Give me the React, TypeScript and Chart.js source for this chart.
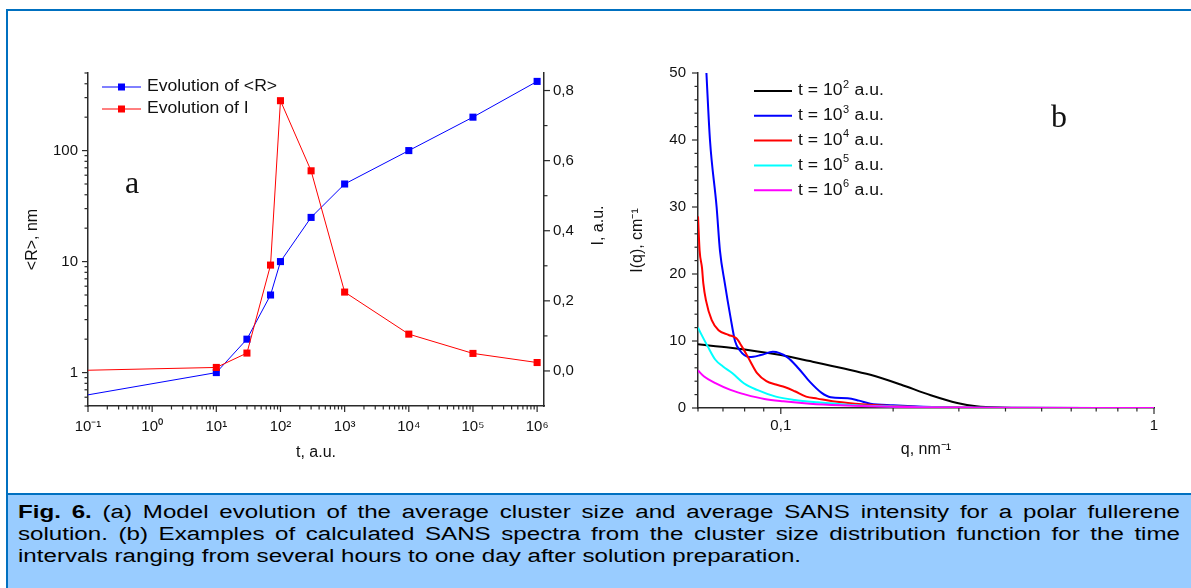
import React, { useEffect, useRef } from "react";
import { Chart, registerables } from "chart.js";

Chart.register(...registerables);

// ---------------- Panel (a) data ----------------
const timeValues = [0.1, 10, 30, 70, 100, 300, 1000, 10000, 100000, 1000000];
const radiusValues = [0.63, 1, 2, 5, 10, 25, 50, 100, 200, 420];
const intensityValues = [0.002, 0.01, 0.051, 0.302, 0.771, 0.571, 0.225, 0.105, 0.05, 0.024];
const seriesNamesA = ["Evolution of <R>", "Evolution of I"];

const timeMajorTicks = [0.1, 1, 10, 100, 1000, 10000, 100000, 1000000];
const timeTickLabels = ["10⁻¹", "10⁰", "10¹", "10²", "10³", "10⁴", "10⁵", "10⁶"];
const radiusMajorTicks = [1, 10, 100];
const radiusTickLabels = ["1", "10", "100"];
const intensityMajorTicks = [0, 0.2, 0.4, 0.6, 0.8];
const intensityTickLabels = ["0,0", "0,2", "0,4", "0,6", "0,8"];
const intensityMinorTicks = [0.1, 0.3, 0.5, 0.7];

// ---------------- Panel (b) data ----------------
const qT2 = [0.06, 0.0733, 0.1, 0.1197, 0.1476, 0.1738, 0.2095, 0.2523, 0.297, 0.334, 0.398, 0.5, 1];
const iT2 = [9.5, 9.0, 7.9, 7.0, 5.9, 4.95, 3.5, 1.9, 0.75, 0.25, 0.05, 0, 0];

const qT3 = [0.06, 0.0632, 0.0646, 0.0673, 0.0687, 0.0708, 0.0733, 0.0754, 0.0774, 0.0824, 0.0884, 0.0952, 0.104, 0.1116, 0.1197, 0.1284, 0.1361, 0.1511, 0.1621, 0.1738, 0.2, 0.241, 0.334, 1];
const iT3 = [75, 50, 40, 30, 23.5, 18.6, 13.6, 10, 8.7, 7.6, 7.9, 8.4, 7.6, 5.9, 3.9, 2.3, 1.6, 1.45, 1.1, 0.65, 0.4, 0.2, 0.05, 0];

const qT4 = [0.06, 0.0606, 0.0615, 0.062, 0.063, 0.0653, 0.0681, 0.0725, 0.076, 0.0786, 0.0824, 0.0864, 0.0915, 0.097, 0.1028, 0.109, 0.1169, 0.1254, 0.1376, 0.1583, 0.1909, 0.2353, 0.334, 1];
const iT4 = [28.6, 23.5, 20.9, 18.6, 16.1, 13.1, 11.6, 10.9, 10.4, 9.2, 7.2, 5.2, 4.0, 3.5, 3.1, 2.5, 1.7, 1.4, 1.0, 0.65, 0.35, 0.15, 0.02, 0];

const qT5 = [0.06, 0.0611, 0.0637, 0.0668, 0.07, 0.0742, 0.0796, 0.0864, 0.097, 0.109, 0.1254, 0.1511, 0.1909, 0.2524, 0.334, 1];
const iT5 = [12.0, 11.1, 9.2, 7.2, 6.2, 5.2, 3.7, 2.7, 1.7, 1.2, 0.85, 0.5, 0.25, 0.1, 0.02, 0];

const qT6 = [0.06, 0.0623, 0.0668, 0.0733, 0.0805, 0.0904, 0.1016, 0.1197, 0.1442, 0.1738, 0.2353, 0.334, 1];
const iT6 = [5.6, 4.7, 3.7, 2.7, 2.0, 1.35, 1.0, 0.65, 0.4, 0.25, 0.1, 0.02, 0];

const seriesExponentsB = ["2", "3", "4", "5", "6"];
const seriesNamesB = ["t = 10² a.u.", "t = 10³ a.u.", "t = 10⁴ a.u.", "t = 10⁵ a.u.", "t = 10⁶ a.u."];
const seriesColorsB = ["#000000", "#0000FF", "#FF0000", "#00FFFF", "#FF00FF"];

const qMajorTicks = [0.1, 1];
const qTickLabels = ["0,1", "1"];
const iqMajorTicks = [0, 10, 20, 30, 40, 50];
const iqTickLabels = ["0", "10", "20", "30", "40", "50"];

const captionLines = [
  "(a) Model evolution of the average cluster size and average SANS intensity for a polar fullerene",
  "solution. (b) Examples of calculated SANS spectra from the cluster size distribution function for the time",
  "intervals ranging from several hours to one day after solution preparation.",
];

// ---------------- helpers ----------------
const FONT = "'Liberation Sans', Arial, Helvetica, sans-serif";
const AXIS = "#2a2a2a";
const TEXT = "#111111";

function logMinorTicks(min: number, max: number): number[] {
  const out: number[] = [];
  for (let e = Math.floor(Math.log10(min)); e <= Math.ceil(Math.log10(max)); e++) {
    const d = Math.pow(10, e);
    for (let m = 2; m <= 9; m++) {
      const v = parseFloat((m * d).toPrecision(6));
      if (v >= min * 0.9999 && v <= max * 1.0001) out.push(v);
    }
  }
  return out;
}

function linearMinorTicks(min: number, max: number, step: number, majorStep: number): number[] {
  const out: number[] = [];
  for (let v = Math.ceil(min / step) * step; v <= max + 1e-9; v += step) {
    const r = Math.abs(v / majorStep - Math.round(v / majorStep));
    if (r > 1e-6) out.push(parseFloat(v.toFixed(6)));
  }
  return out;
}

function fixedAxis(majors: number[], labels: string[], minors: number[], padding: number, size = 15) {
  return {
    grid: { display: false, drawTicks: false },
    border: { display: true, color: AXIS, width: 1.5 },
    afterBuildTicks: (scale: any) => {
      const all = [...majors, ...minors]
        .filter((v) => v >= scale.min - 1e-9 && v <= scale.max * 1.0001 + 1e-9)
        .sort((a, b) => a - b);
      scale.ticks = all.map((v) => ({ value: v }));
    },
    ticks: {
      autoSkip: false,
      maxRotation: 0,
      minRotation: 0,
      padding,
      color: TEXT,
      font: { family: FONT, size },
      callback: (value: number) => {
        const i = majors.findIndex((m) => Math.abs(m - value) <= Math.abs(m) * 1e-6 + 1e-9);
        return i >= 0 ? labels[i] : "";
      },
    },
  };
}

const tickMarksPlugin = {
  id: "tickMarks",
  afterDraw(chart: any) {
    const ctx = chart.ctx;
    ctx.save();
    ctx.strokeStyle = AXIS;
    ctx.lineWidth = 1.2;
    Object.values(chart.scales).forEach((scale: any) => {
      scale.ticks.forEach((t: any) => {
        const major = t.label !== "" && t.label != null;
        const len = major ? 6 : 3.5;
        const p = scale.getPixelForValue(t.value);
        ctx.beginPath();
        if (scale.position === "bottom") {
          ctx.moveTo(p, scale.top);
          ctx.lineTo(p, scale.top + len);
        } else if (scale.position === "left") {
          ctx.moveTo(scale.right, p);
          ctx.lineTo(scale.right - len, p);
        } else {
          ctx.moveTo(scale.left, p);
          ctx.lineTo(scale.left + len, p);
        }
        ctx.stroke();
      });
    });
    ctx.restore();
  },
};

function drawStretchedText(ctx: any, text: string, x: number, y: number, size: number, sx: number) {
  ctx.save();
  ctx.translate(x, y);
  ctx.scale(sx, 1);
  ctx.font = `${size}px ${FONT}`;
  ctx.fillStyle = TEXT;
  ctx.textBaseline = "middle";
  ctx.textAlign = "left";
  ctx.fillText(text, 0, 0);
  const w = ctx.measureText(text).width * sx;
  ctx.restore();
  return w;
}

const legendAPlugin = {
  id: "legendA",
  afterDraw(chart: any) {
    const { ctx, chartArea } = chart;
    chart.data.datasets.forEach((ds: any, i: number) => {
      const y = chartArea.top + 14 + i * 22;
      const x0 = chartArea.left + 14;
      ctx.save();
      ctx.strokeStyle = ds.borderColor;
      ctx.lineWidth = 1;
      ctx.beginPath();
      ctx.moveTo(x0, y);
      ctx.lineTo(x0 + 39, y);
      ctx.stroke();
      ctx.fillStyle = ds.pointBackgroundColor;
      ctx.fillRect(x0 + 19.5 - 3.5, y - 3.5, 7, 7);
      ctx.restore();
      drawStretchedText(ctx, ds.label, x0 + 45, y, 16, 1.1);
    });
    // right axis title, reading bottom-to-top
    const y1 = chart.scales.y1;
    ctx.save();
    ctx.translate(y1.left + 55, (chartArea.top + chartArea.bottom) / 2 - 14);
    ctx.rotate(-Math.PI / 2);
    ctx.font = `16px ${FONT}`;
    ctx.fillStyle = TEXT;
    ctx.textAlign = "center";
    ctx.textBaseline = "middle";
    ctx.fillText("I, a.u.", 0, 0);
    ctx.restore();
  },
};

const legendBPlugin = {
  id: "legendB",
  afterDraw(chart: any) {
    const { ctx, chartArea } = chart;
    chart.data.datasets.forEach((ds: any, i: number) => {
      const y = chartArea.top + 18 + i * 24.8;
      const x0 = chartArea.left + 56;
      ctx.save();
      ctx.strokeStyle = ds.borderColor;
      ctx.lineWidth = 2;
      ctx.beginPath();
      ctx.moveTo(x0, y);
      ctx.lineTo(x0 + 38, y);
      ctx.stroke();
      ctx.restore();
      let x = x0 + 44;
      x += drawStretchedText(ctx, "t = 10", x, y, 16, 1.1);
      x += drawStretchedText(ctx, seriesExponentsB[i], x + 0.5, y - 6, 10, 1.1) + 1;
      drawStretchedText(ctx, " a.u.", x, y, 16, 1.1);
    });
  },
};

const CAPTION_SCALE = 1.34;

export default function App() {
  const leftRef = useRef<HTMLCanvasElement>(null);
  const rightRef = useRef<HTMLCanvasElement>(null);

  useEffect(() => {
    const xA = fixedAxis(timeMajorTicks, timeTickLabels, logMinorTicks(0.1, 1000000), 12);
    const yA = fixedAxis(radiusMajorTicks, radiusTickLabels, logMinorTicks(0.5, 500), 10);
    const y1A = fixedAxis(intensityMajorTicks, intensityTickLabels, intensityMinorTicks, 9);

    const chartA = new Chart(leftRef.current as HTMLCanvasElement, {
      type: "line",
      data: {
        datasets: [
          {
            label: seriesNamesA[0],
            data: timeValues.map((t, i) => ({ x: t, y: radiusValues[i] })),
            yAxisID: "y",
            order: 1,
            borderColor: "#0000FF",
            backgroundColor: "#0000FF",
            borderWidth: 1,
            pointStyle: "rect",
            pointRadius: (c: any) => (c.dataIndex === 0 ? 0 : 5),
            pointBackgroundColor: "#0000FF",
            pointBorderColor: "#0000FF",
            pointBorderWidth: 0,
            tension: 0,
          },
          {
            label: seriesNamesA[1],
            data: timeValues.map((t, i) => ({ x: t, y: intensityValues[i] })),
            yAxisID: "y1",
            order: 0,
            borderColor: "#FF0000",
            backgroundColor: "#FF0000",
            borderWidth: 1,
            pointStyle: "rect",
            pointRadius: (c: any) => (c.dataIndex === 0 ? 0 : 5),
            pointBackgroundColor: "#FF0000",
            pointBorderColor: "#FF0000",
            pointBorderWidth: 0,
            tension: 0,
          },
        ],
      } as any,
      options: {
        responsive: false,
        animation: false,
        events: [],
        layout: { padding: { top: 53, left: 0, right: 0, bottom: 0 } },
        plugins: { legend: { display: false }, tooltip: { enabled: false } },
        scales: {
          x: {
            type: "logarithmic",
            position: "bottom",
            min: 0.1,
            max: 1280000,
            bounds: "data",
            ...xA,
            afterFit: (s: any) => {
              s.height = 84;
            },
            title: {
              display: true,
              text: "t, a.u.",
              color: TEXT,
              font: { family: FONT, size: 16 },
              padding: { top: 0, bottom: 27.4 },
            },
          },
          y: {
            type: "logarithmic",
            position: "left",
            min: 0.5,
            max: 500,
            bounds: "data",
            ...yA,
            afterFit: (s: any) => {
              s.width = 78;
            },
            title: {
              display: true,
              text: "<R>, nm",
              color: TEXT,
              font: { family: FONT, size: 16 },
              padding: { top: 13.4, bottom: 0 },
            },
          },
          y1: {
            type: "linear",
            position: "right",
            min: -0.1,
            max: 0.85,
            bounds: "data",
            ...y1A,
            afterFit: (s: any) => {
              s.width = 71;
            },
          },
        },
      } as any,
      plugins: [tickMarksPlugin, legendAPlugin],
    });

    const xB = fixedAxis(qMajorTicks, qTickLabels, logMinorTicks(0.06, 1), 9);
    const yB = fixedAxis(iqMajorTicks, iqTickLabels, linearMinorTicks(0, 50, 2, 10), 12);
    const qs = [qT2, qT3, qT4, qT5, qT6];
    const is = [iT2, iT3, iT4, iT5, iT6];

    const chartB = new Chart(rightRef.current as HTMLCanvasElement, {
      type: "line",
      data: {
        datasets: seriesNamesB.map((name, k) => ({
          label: name,
          data: qs[k].map((q, i) => ({ x: q, y: is[k][i] })),
          borderColor: seriesColorsB[k],
          backgroundColor: seriesColorsB[k],
          borderWidth: 2,
          pointRadius: 0,
          cubicInterpolationMode: "monotone",
          order: 5 - k,
        })),
      } as any,
      options: {
        responsive: false,
        animation: false,
        events: [],
        layout: { padding: { top: 53, left: 0, right: 37, bottom: 0 } },
        plugins: { legend: { display: false }, tooltip: { enabled: false } },
        scales: {
          x: {
            type: "logarithmic",
            position: "bottom",
            min: 0.06,
            max: 1,
            bounds: "data",
            ...xB,
            afterFit: (s: any) => {
              s.height = 82;
            },
            title: {
              display: true,
              text: "q, nm⁻¹",
              color: TEXT,
              font: { family: FONT, size: 16 },
              padding: { top: 0, bottom: 30.4 },
            },
          },
          y: {
            type: "linear",
            position: "left",
            min: 0,
            max: 50,
            bounds: "data",
            ...yB,
            afterFit: (s: any) => {
              s.width = 78;
            },
            title: {
              display: true,
              text: "I(q), cm⁻¹",
              color: TEXT,
              font: { family: FONT, size: 16 },
              padding: { top: 8.4, bottom: 0 },
            },
          },
        },
      } as any,
      plugins: [tickMarksPlugin, legendBPlugin],
    });

    return () => {
      chartA.destroy();
      chartB.destroy();
    };
  }, []);

  const lineStyle = (justify: boolean): React.CSSProperties => ({
    width: 1162 / CAPTION_SCALE,
    height: 22,
    transform: `scaleX(${CAPTION_SCALE})`,
    transformOrigin: "0 0",
    textAlign: justify ? "justify" : "left",
    textAlignLast: justify ? "justify" : "left",
    whiteSpace: "normal",
    overflow: "hidden",
  } as any);

  return (
    <div
      style={{
        position: "absolute",
        left: 0,
        top: 0,
        width: 1191,
        height: 588,
        overflow: "hidden",
        background: "#ffffff",
        fontFamily: FONT,
      }}
    >
      <div
        style={{
          position: "absolute",
          left: 6,
          top: 9,
          width: 1300,
          height: 700,
          borderLeft: "2px solid #0070C0",
          borderTop: "2px solid #0070C0",
          boxSizing: "border-box",
        }}
      />
      <div
        style={{
          position: "absolute",
          left: 8,
          top: 493,
          width: 1200,
          height: 100,
          background: "#99CCFF",
          borderTop: "2px solid #0070C0",
          boxSizing: "border-box",
        }}
      />
      <canvas ref={leftRef} width={605} height={470} style={{ position: "absolute", left: 10, top: 20 }} />
      <canvas ref={rightRef} width={571} height={470} style={{ position: "absolute", left: 620, top: 20 }} />
      <span
        style={{
          position: "absolute",
          left: 125,
          top: 166,
          fontFamily: "'Liberation Serif', 'Times New Roman', serif",
          fontSize: 32,
          lineHeight: "32px",
          color: TEXT,
        }}
      >
        a
      </span>
      <span
        style={{
          position: "absolute",
          left: 1051,
          top: 100,
          fontFamily: "'Liberation Serif', 'Times New Roman', serif",
          fontSize: 32,
          lineHeight: "32px",
          color: TEXT,
        }}
      >
        b
      </span>
      <div
        style={{
          position: "absolute",
          left: 18,
          top: 501,
          fontSize: 18,
          lineHeight: "22px",
          color: "#000",
        }}
      >
        <div style={lineStyle(true)}>
          <b>Fig. 6.</b> {captionLines[0]}
        </div>
        <div style={lineStyle(true)}>{captionLines[1]}</div>
        <div style={lineStyle(false)}>{captionLines[2]}</div>
      </div>
    </div>
  );
}
